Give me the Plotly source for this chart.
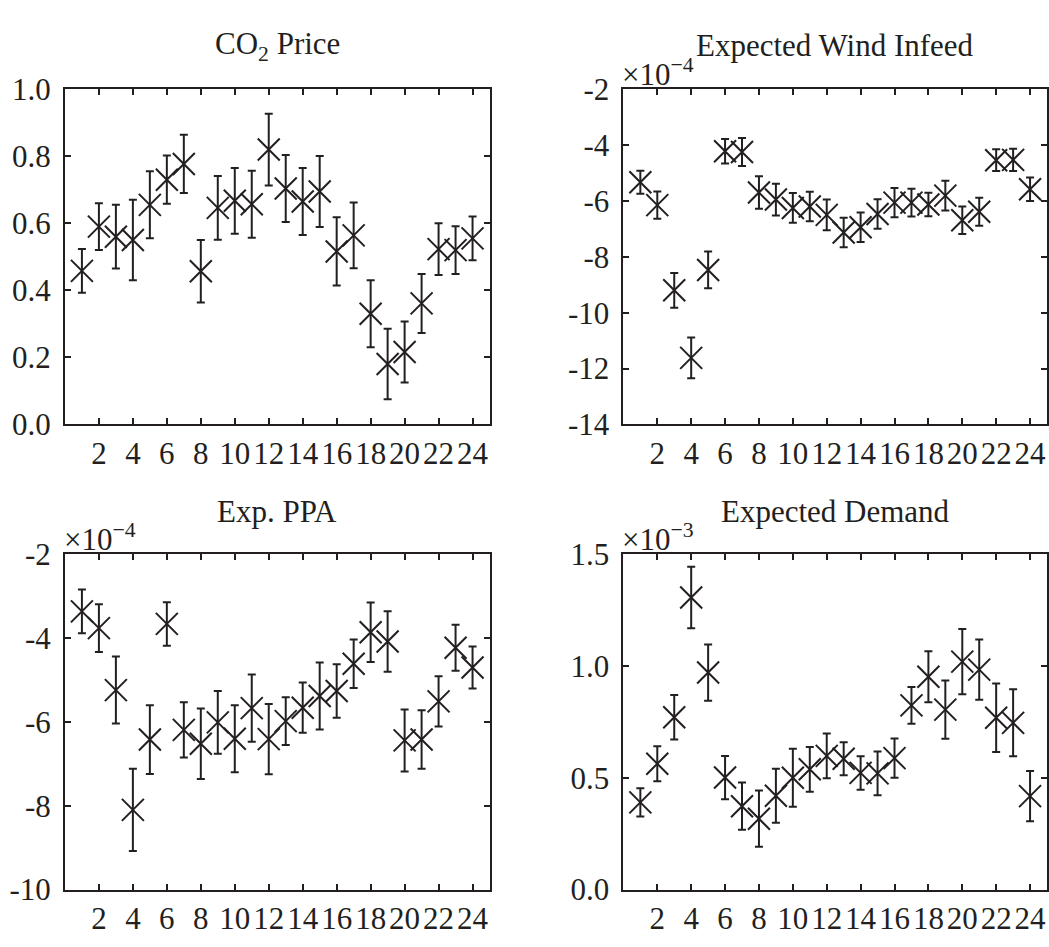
import plotly.graph_objects as go

# ---------------- data ----------------
hours = list(range(1, 25))
x_ticks = [2, 4, 6, 8, 10, 12, 14, 16, 18, 20, 22, 24]

# CO2 Price
co2_mean = [0.458, 0.59, 0.56, 0.55, 0.655, 0.73, 0.777, 0.457, 0.646, 0.667, 0.657, 0.82,
            0.704, 0.665, 0.695, 0.516, 0.564, 0.33, 0.18, 0.216, 0.361, 0.523, 0.52, 0.555]
co2_err = [0.065, 0.07, 0.095, 0.12, 0.10, 0.072, 0.087, 0.093, 0.095, 0.098, 0.10, 0.107,
           0.10, 0.10, 0.106, 0.102, 0.098, 0.10, 0.105, 0.091, 0.088, 0.077, 0.071, 0.065]

# Expected Wind Infeed (units of 1e-4)
wind_mean = [-5.33, -6.15, -9.2, -11.62, -8.47, -4.22, -4.25, -5.7, -5.95, -6.25, -6.2, -6.5,
             -7.13, -6.94, -6.47, -6.06, -6.06, -6.13, -5.81, -6.69, -6.39, -4.54, -4.53, -5.58]
wind_err = [0.41, 0.49, 0.62, 0.73, 0.66, 0.44, 0.5, 0.58, 0.57, 0.53, 0.53, 0.55,
            0.53, 0.53, 0.53, 0.52, 0.5, 0.42, 0.53, 0.49, 0.5, 0.39, 0.4, 0.42]

# Exp. PPA (units of 1e-4)
ppa_mean = [-3.36, -3.76, -5.24, -8.1, -6.42, -3.66, -6.19, -6.52, -6.01, -6.4, -5.67, -6.41,
            -5.98, -5.66, -5.38, -5.26, -4.61, -3.86, -4.08, -6.44, -6.42, -5.51, -4.23, -4.7]
ppa_err = [0.52, 0.57, 0.8, 0.98, 0.82, 0.52, 0.66, 0.84, 0.75, 0.8, 0.8, 0.84,
           0.57, 0.6, 0.8, 0.64, 0.58, 0.71, 0.72, 0.74, 0.7, 0.6, 0.55, 0.5]

# Expected Demand (units of 1e-3)
dem_mean = [0.39, 0.563, 0.771, 1.307, 0.971, 0.501, 0.373, 0.317, 0.42, 0.5, 0.538, 0.598,
            0.585, 0.522, 0.52, 0.588, 0.824, 0.952, 0.805, 1.02, 0.984, 0.769, 0.746, 0.418]
dem_err = [0.063, 0.078, 0.1, 0.138, 0.126, 0.097, 0.106, 0.126, 0.121, 0.13, 0.1, 0.1,
           0.074, 0.075, 0.098, 0.088, 0.082, 0.114, 0.13, 0.146, 0.135, 0.153, 0.15, 0.112]

titles = ["CO<sub>2</sub> Price", "Expected Wind Infeed", "Exp. PPA", "Expected Demand"]
exponents = [None, "\u00d710<sup>\u22124</sup>", "\u00d710<sup>\u22124</sup>", "\u00d710<sup>\u22123</sup>"]

y1_ticks = [0.0, 0.2, 0.4, 0.6, 0.8, 1.0]
y1_text = ["0.0", "0.2", "0.4", "0.6", "0.8", "1.0"]
y2_ticks = [-14, -12, -10, -8, -6, -4, -2]
y2_text = ["-14", "-12", "-10", "-8", "-6", "-4", "-2"]
y3_ticks = [-10, -8, -6, -4, -2]
y3_text = ["-10", "-8", "-6", "-4", "-2"]
y4_ticks = [0.0, 0.5, 1.0, 1.5]
y4_text = ["0.0", "0.5", "1.0", "1.5"]

# ---------------- layout geometry ----------------
W, H = 1049, 947
INK = "#231f20"
FONT = "Liberation Serif, Times New Roman, serif"
TICK_SIZE = 31
TITLE_SIZE = 31

panels_px = [  # left, right, top, bottom in pixels
    (65, 490, 75, 423),
    (624, 1048, 75, 423),
    (65, 490, 558, 906),
    (624, 1048, 558, 906),
]

series = [(co2_mean, co2_err), (wind_mean, wind_err), (ppa_mean, ppa_err), (dem_mean, dem_err)]
yranges = [[0, 1], [-14, -2], [-10, -2], [0, 1.5]]
yticks = [(y1_ticks, y1_text), (y2_ticks, y2_text), (y3_ticks, y3_text), (y4_ticks, y4_text)]

fig = go.Figure()
layout = dict(
    width=W, height=H,
    margin=dict(l=0, r=0, t=0, b=0),
    paper_bgcolor="white", plot_bgcolor="white",
    showlegend=False,
    font=dict(family=FONT, size=TICK_SIZE, color=INK),
)
annotations = []

for i, ((m, e), (l, r, t, b)) in enumerate(zip(series, panels_px)):
    k = "" if i == 0 else str(i + 1)
    fig.add_trace(go.Scatter(
        x=hours, y=m, mode="markers",
        xaxis="x" + k, yaxis="y" + k,
        marker=dict(symbol="x-thin", size=22, color=INK,
                    line=dict(width=2, color=INK)),
        error_y=dict(type="data", array=e, symmetric=True, thickness=2, width=4, color=INK),
        cliponaxis=False,
    ))
    xd = [l / W, r / W]
    yd = [1 - b / H, 1 - t / H]
    common = dict(showline=True, linewidth=2, linecolor=INK, mirror="ticks",
                  ticks="inside", ticklen=6, tickwidth=1.5, tickcolor=INK,
                  showgrid=False, zeroline=False,
                  tickfont=dict(family=FONT, size=TICK_SIZE, color=INK))
    layout["xaxis" + k] = dict(domain=xd, range=[0, 25], tickvals=x_ticks,
                               ticktext=[str(v) for v in x_ticks], tickangle=0,
                               anchor="y" + k, ticklabelstandoff=0, **common)
    layout["yaxis" + k] = dict(domain=yd, range=yranges[i], tickvals=yticks[i][0],
                               ticktext=yticks[i][1], anchor="x" + k,
                               ticklabelstandoff=6, **common)
    annotations.append(dict(
        text=titles[i], x=(l + r) / 2 / W, y=1 - (t - 45) / H,
        xref="paper", yref="paper", xanchor="center", yanchor="middle",
        showarrow=False, font=dict(family=FONT, size=TITLE_SIZE, color=INK)))
    if exponents[i]:
        annotations.append(dict(
            text=exponents[i], x=(l - 3) / W, y=1 - (t + 5) / H,
            xref="paper", yref="paper", xanchor="left", yanchor="bottom",
            showarrow=False, font=dict(family=FONT, size=TICK_SIZE, color=INK)))

layout["annotations"] = annotations
fig.update_layout(**layout)
fig.write_html("out.html")
